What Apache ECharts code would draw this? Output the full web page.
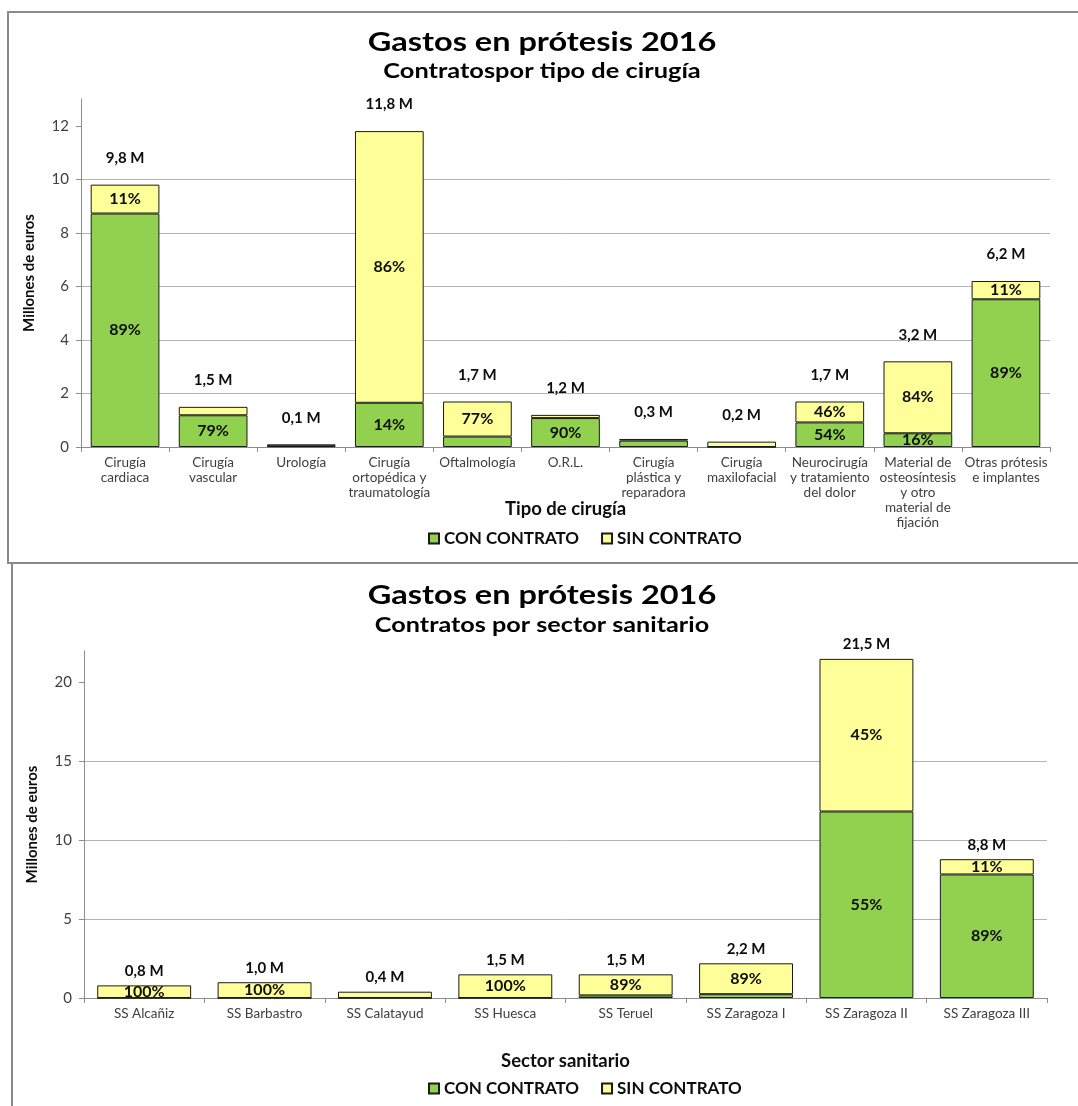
<!DOCTYPE html>
<html>
<head>
<meta charset="utf-8">
<script src="https://cdn.jsdelivr.net/npm/echarts@6/dist/echarts.min.js"></script>
<style>
  html, body { margin: 0; padding: 0; background: #ffffff; }
  #chart { width: 1078px; height: 1106px; }
</style>
</head>
<body>
<div id="chart"></div>
<script>
// Spending on prostheses 2016, in millions of euros.
// Chart 1: by type of surgery
const surgeryTypes = [
  'Cirugía\ncardiaca',
  'Cirugía\nvascular',
  'Urología',
  'Cirugía\nortopédica y\ntraumatología',
  'Oftalmología',
  'O.R.L.',
  'Cirugía\nplástica y\nreparadora',
  'Cirugía\nmaxilofacial',
  'Neurocirugía\ny tratamiento\ndel dolor',
  'Material de\nosteosíntesis\ny otro\nmaterial de\nfijación',
  'Otras prótesis\ne implantes'
];
const surgeryTotals = [9.8, 1.5, 0.1, 11.8, 1.7, 1.2, 0.3, 0.2, 1.7, 3.2, 6.2];
// share of spending under contract (%)
const surgeryConPct = [89, 79, 30, 14, 23, 90, 80, 0, 54, 16, 89];
const surgeryTicks = [0, 2, 4, 6, 8, 10, 12];

// Chart 2: by health sector
const sectors = [
  'SS Alcañiz', 'SS Barbastro', 'SS Calatayud', 'SS Huesca',
  'SS Teruel', 'SS Zaragoza I', 'SS Zaragoza II', 'SS Zaragoza III'
];
const sectorTotals = [0.8, 1.0, 0.4, 1.5, 1.5, 2.2, 21.5, 8.8];
const sectorConPct = [0, 0, 0, 0, 11, 11, 55, 89];
const sectorTicks = [0, 5, 10, 15, 20];

const seriesNames = ['CON CONTRATO', 'SIN CONTRATO'];

// ---------------------------------------------------------------
const GREEN = '#92D050';
const YELLOW = '#FFFF99';
const FONT = 'Lato';
const INK = '#0d0d0d';
const MIN_LABELLED = 0.45; // segments smaller than this carry no % label

function split(totals, pct) {
  const con = totals.map((t, i) => +(t * pct[i] / 100).toFixed(4));
  const sin = totals.map((t, i) => +(t - con[i]).toFixed(4));
  return { con, sin };
}
const fmtTotal = v => v.toFixed(1).replace('.', ',') + ' M';

function buildSeries(idx, totals, pct, totalDistance) {
  const parts = split(totals, pct);
  const pctLabel = (share) => ({
    show: true,
    position: 'inside',
    fontFamily: FONT,
    fontWeight: 'bold',
    fontSize: 16,
    color: INK,
    formatter: p => p.value >= MIN_LABELLED ? share(p.dataIndex) + '%' : ''
  });
  const common = {
    type: 'bar', xAxisIndex: idx, yAxisIndex: idx,
    barCategoryGap: '22%', barGap: '-100%', silent: true
  };
  return [
    Object.assign({}, common, {
      name: seriesNames[0], stack: 'g' + idx,
      data: parts.con,
      itemStyle: { color: GREEN, borderColor: '#1a1a1a', borderWidth: 1 },
      label: pctLabel(i => pct[i])
    }),
    Object.assign({}, common, {
      name: seriesNames[1], stack: 'g' + idx,
      data: parts.sin,
      itemStyle: { color: YELLOW, borderColor: '#1a1a1a', borderWidth: 1 },
      label: pctLabel(i => 100 - pct[i])
    }),
    // invisible bar carrying the total above each column
    Object.assign({}, common, {
      name: 'total' + idx,
      data: totals,
      z: 1,
      itemStyle: { color: 'rgba(255,255,255,0)', borderWidth: 0 },
      label: {
        show: true, position: 'top', distance: totalDistance,
        fontFamily: FONT, fontWeight: 'bold', fontSize: 15, color: INK,
        formatter: p => fmtTotal(p.value)
      }
    })
  ];
}

function xAxis(idx, cats, name, gap) {
  return {
    type: 'category', gridIndex: idx, data: cats,
    name: name, nameLocation: 'middle', nameGap: gap, nameMoveOverlap: false,
    nameTextStyle: { fontFamily: FONT, fontWeight: 'bold', fontSize: 18.5, color: INK },
    axisLine: { lineStyle: { color: '#8c8c8c', width: 1 } },
    axisTick: { show: true, length: 5, lineStyle: { color: '#8c8c8c' } },
    axisLabel: {
      interval: 0, margin: 8, fontFamily: FONT, fontSize: 13.5,
      lineHeight: 15, color: '#404040'
    }
  };
}

function yAxis(idx, max, interval, ticks) {
  return {
    type: 'value', gridIndex: idx, min: 0, max: max, interval: interval,
    name: 'Millones de euros', nameLocation: 'middle', nameRotate: 90, nameGap: 44,
    nameMoveOverlap: false,
    nameTextStyle: { fontFamily: FONT, fontWeight: 'bold', fontSize: 15, color: INK },
    axisLine: { show: true, lineStyle: { color: '#8c8c8c', width: 1 } },
    axisTick: { show: true, length: 5, customValues: ticks, lineStyle: { color: '#8c8c8c' } },
    axisLabel: { customValues: ticks, margin: 12, fontFamily: FONT, fontSize: 15, color: '#404040' },
    splitLine: { show: true, showMaxLine: false, lineStyle: { color: '#b4b4b4', width: 1 } }
  };
}

function legend(top) {
  return {
    data: seriesNames, top: top, left: 423,
    icon: 'rect', itemWidth: 10, itemHeight: 10, itemGap: 22,
    selectedMode: false,
    textStyle: { fontFamily: FONT, fontWeight: 'bold', fontSize: 17, color: INK }
  };
}

// Heading text, widened horizontally for the heavy heading face
function titleText(x, y, text, size, stretch) {
  return {
    type: 'text', x: x, y: y, scaleX: stretch, silent: true,
    style: {
      text: text, x: 0, y: 0, align: 'center', verticalAlign: 'middle',
      font: 'bold ' + size + 'px ' + FONT, fill: '#000'
    }
  };
}

const chart = echarts.init(document.getElementById('chart'), null, { renderer: 'canvas' });
chart.setOption({
  backgroundColor: '#ffffff',
  animation: false,
  graphic: [
    { type: 'rect', shape: { x: 8, y: 12, width: 1090, height: 551 }, silent: true,
      style: { fill: null, stroke: '#8a8a8a', lineWidth: 2 } },
    { type: 'rect', shape: { x: 12, y: 563, width: 1090, height: 580 }, silent: true,
      style: { fill: null, stroke: '#8a8a8a', lineWidth: 2 } },
    titleText(542, 43, 'Gastos en prótesis 2016', 26, 1.25),
    titleText(542, 72, 'Contratospor tipo de cirugía', 20, 1.27),
    titleText(542, 596, 'Gastos en prótesis 2016', 26, 1.25),
    titleText(542, 626, 'Contratos por sector sanitario', 20, 1.26)
  ],
  legend: [legend(525), legend(1075)],
  grid: [
    { left: 81, right: 28, top: 99, height: 348 },
    { left: 84, right: 31, top: 651, height: 347 }
  ],
  xAxis: [
    xAxis(0, surgeryTypes, 'Tipo de cirugía', 53),
    xAxis(1, sectors, 'Sector sanitario', 54)
  ],
  yAxis: [
    yAxis(0, 13, 2, surgeryTicks),
    yAxis(1, 22, 5, sectorTicks)
  ],
  series: [
    ...buildSeries(0, surgeryTotals, surgeryConPct, 19),
    ...buildSeries(1, sectorTotals, sectorConPct, 7)
  ]
});
</script>
</body>
</html>
